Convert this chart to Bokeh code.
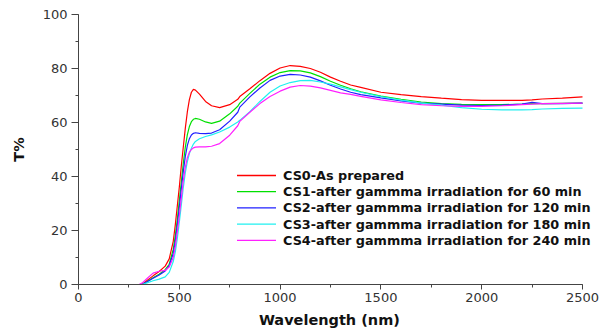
from bokeh.plotting import figure
from bokeh.models import Range1d, SingleIntervalTicker, ColumnDataSource, Label, BoxAnnotation
from bokeh.embed import file_html
from bokeh.resources import INLINE

nan = float("nan")

wavelength = [200, 250, 300, 315, 340, 370, 400, 430, 450, 470, 480, 490, 500, 510, 520, 530,
              540, 550, 560, 570, 580, 600, 630, 660, 700, 750, 790, 800, 850, 900, 950, 1000,
              1050, 1100, 1150, 1200, 1250, 1300, 1350, 1400, 1500, 1600, 1700, 1800, 1900,
              2000, 2100, 2200, 2250, 2300, 2400, 2500]

cs0 = [nan, nan, nan, 0, 1.5, 3.2, 4.8, 6.8, 9.5, 16, 22, 29, 36, 44, 51, 58,
       64, 68.5, 71.2, 72.3, 72.0, 70.5, 67.8, 66.2, 65.5, 66.6, 68.6, 69.6, 72.5, 75.5, 78.2, 80.2,
       81.1, 80.8, 80.0, 78.6, 76.8, 75.3, 73.9, 73.0, 71.2, 70.3, 69.6, 69.0, 68.5,
       68.2, 68.2, 68.2, 68.4, 68.7, 69.0, 69.5]

cs1 = [nan, nan, nan, 0, 1.0, 2.5, 3.8, 5.5, 7.5, 13, 18, 24, 31, 38, 45, 51,
       55.5, 58.5, 60.3, 61.2, 61.5, 61.2, 60.2, 59.7, 60.5, 63.2, 66.0, 67.2, 70.8, 74.2, 76.8, 78.5,
       79.2, 79.1, 78.4, 77.0, 75.3, 73.8, 72.5, 71.4, 69.8, 68.6, 67.6, 67.0, 66.7,
       66.6, 66.6, 66.8, 67.0, 67.0, 67.1, 67.2]

cs2 = [nan, nan, nan, 0, 1.0, 2.3, 3.5, 5.0, 7.0, 11.5, 16, 22, 28.5, 35.5, 42, 47.5,
       51.5, 54.0, 55.4, 56.0, 56.2, 56.0, 55.9, 56.1, 57.3, 60.5, 63.8, 65.7, 69.5, 72.8, 75.6, 77.2,
       77.8, 77.6, 76.8, 75.4, 73.8, 72.4, 71.2, 70.3, 69.1, 68.0, 67.2, 66.8, 66.4,
       66.3, 66.4, 66.8, 67.5, 67.0, 67.0, 67.2]

cs3 = [nan, nan, nan, 0, 0.6, 1.4, 2.0, 2.8, 4.5, 8.5, 12, 17, 23, 29.5, 36, 41.5,
       45.5, 48.5, 50.5, 52.0, 53.0, 54.0, 54.8, 55.4, 56.5, 58.3, 60.2, 60.8, 64.0, 67.8, 71.2, 73.5,
       74.8, 75.5, 75.6, 75.0, 74.2, 73.2, 72.2, 71.2, 69.6, 68.3, 67.2, 66.4, 65.5,
       64.9, 64.7, 64.7, 64.8, 65.0, 65.2, 65.3]

cs4 = [0, 0, 0, 0.5, 2.2, 4.2, 4.9, 5.2, 6.5, 10.0, 14, 19.5, 25.5, 32, 38.5, 43.5,
       47.0, 49.0, 50.0, 50.6, 50.9, 51.0, 51.0, 51.2, 52.2, 55.3, 58.8, 60.4, 63.8, 67.0, 69.6, 71.6,
       73.1, 73.7, 73.5, 72.8, 71.9, 71.0, 70.4, 69.7, 68.4, 67.4, 66.6, 66.2, 66.0,
       66.0, 66.2, 66.6, 66.8, 67.0, 67.1, 67.2]

labels = ["CS0-As prepared",
          "CS1-after gammma irradiation for 60 min",
          "CS2-after gammma irradiation for 120 min",
          "CS3-after gammma irradiation for 180 min",
          "CS4-after gammma irradiation for 240 min"]
colors = ["#ff0000", "#00e000", "#2020ff", "#20f0f0", "#ff20ff"]
series = [cs0, cs1, cs2, cs3, cs4]

x_axis_end = 2500
# frame extends 18px past the axis end so the legend text is not clipped
x_view_end = x_axis_end * 522 / 504

p = figure(width=600, height=333, output_backend="svg", toolbar_location=None,
           x_range=Range1d(0, x_view_end), y_range=Range1d(0, 100),
           min_border_left=78, min_border_right=0, min_border_top=14, min_border_bottom=49)
p.outline_line_color = None
p.xgrid.visible = False
p.ygrid.visible = False

for col, ys in zip(colors, series):
    src = ColumnDataSource(dict(x=wavelength, y=ys))
    p.line("x", "y", source=src, line_color=col, line_width=1.2)

# legend (screen units, relative to the plot frame's bottom-left corner)
leg_x0, leg_x1, leg_text_x = 158.5, 197.5, 204.5
leg_top, leg_step, leg_thick = 109, 16.2, 1.3
for i, (lab, col) in enumerate(zip(labels, colors)):
    yy = leg_top - i * leg_step
    p.add_layout(BoxAnnotation(left=leg_x0, right=leg_x1,
                               bottom=yy - leg_thick / 2, top=yy + leg_thick / 2,
                               left_units="screen", right_units="screen",
                               bottom_units="screen", top_units="screen",
                               fill_color=col, fill_alpha=1.0, line_color=None))
    p.add_layout(Label(x=leg_text_x, y=yy, x_units="screen", y_units="screen", text=lab,
                       text_font="DejaVu Sans", text_font_style="bold", text_font_size="12.8px",
                       text_color="#111111", text_baseline="middle", text_align="left"))

p.xaxis.ticker = SingleIntervalTicker(interval=500, num_minor_ticks=2)
p.yaxis.ticker = SingleIntervalTicker(interval=20, num_minor_ticks=2)
p.xaxis.bounds = (0, x_axis_end)

for ax in (p.xaxis[0], p.yaxis[0]):
    ax.axis_line_color = "#444444"
    ax.major_tick_line_color = "#444444"
    ax.minor_tick_line_color = "#444444"
    ax.major_tick_in = 0
    ax.minor_tick_in = 0
    ax.minor_tick_out = 3
    ax.major_label_text_font = "DejaVu Sans"
    ax.major_label_text_font_size = "13px"
    ax.major_label_text_color = "#333333"
    ax.axis_label_text_font = "DejaVu Sans"
    ax.axis_label_text_font_style = "bold"
    ax.axis_label_text_font_size = "14.5px"
    ax.axis_label_text_color = "#111111"

p.xaxis.major_tick_out = 5
p.yaxis.major_tick_out = 7
p.xaxis.major_label_standoff = 3
p.yaxis.major_label_standoff = 4
# trailing no-break spaces re-centre the title under the axis (the frame runs past 2500)
p.xaxis.axis_label = "Wavelength (nm)" + "\u00a0" * 4
p.yaxis.axis_label = "T%"
p.xaxis.axis_label_standoff = 7
p.yaxis.axis_label_standoff = 13

open("out.html", "w").write(file_html(p, INLINE))
